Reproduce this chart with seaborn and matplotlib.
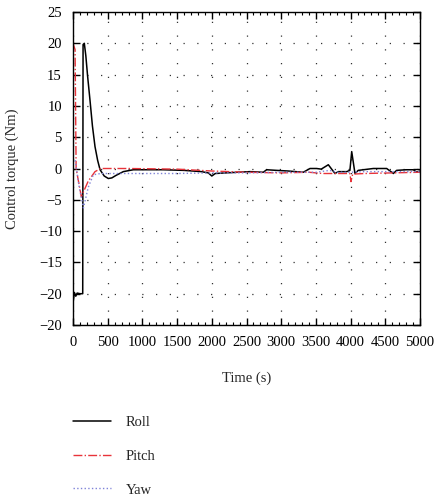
import numpy as np
import pandas as pd
import matplotlib
matplotlib.use("Agg")
import matplotlib.pyplot as plt
import seaborn as sns
from matplotlib.ticker import MultipleLocator

# values
roll_t = [0, 20, 40, 60, 100, 140, 145, 163, 185, 210, 245, 280, 317, 355, 390, 450,
          509, 560, 620, 725, 870, 1000, 1300, 1600, 1850, 1950, 2000, 2050, 2200, 2550,
          2742, 2790, 2934, 3100, 3318, 3415, 3510, 3577, 3679, 3775, 3823, 3944, 3990,
          4016, 4063, 4110, 4327, 4520, 4616, 4663, 4800, 4904, 4952, 5000]
roll_v = [-21.5, -19.8, -20.4, -19.9, -20.0, -20.0, 19.8, 20.0, 18.0, 14.8, 10.9, 6.8, 3.5,
          1.3, -0.2, -1.2, -1.6, -1.5, -1.1, -0.5, -0.2, -0.2, -0.2, -0.3, -0.5, -0.7,
          -1.2, -0.8, -0.7, -0.5, -0.6, -0.2, -0.3, -0.4, -0.6, 0.0, 0.0, -0.1, 0.6, -0.8,
          -0.5, -0.5, -0.3, 2.7, -0.8, -0.3, 0.0, 0.0, -0.8, -0.3, -0.2, -0.2, -0.6, -0.4]

pitch_t = [0, 30, 45, 120, 220, 317, 400, 800, 1500, 2000, 2500, 3000, 3400, 3600, 3900,
           3990, 4005, 4030, 4200, 4600, 5000]
pitch_v = [20.0, 19.0, 0.0, -4.5, -2.0, -0.5, 0.0, 0.0, -0.1, -0.4, -0.6, -0.7, -0.6, -0.8,
           -0.8, -0.8, -2.1, -0.9, -0.8, -0.7, -0.6]

yaw_t = [0, 30, 90, 150, 220, 293, 400, 600, 1000, 1500, 2000, 2500, 3000, 3500, 3700,
         3800, 4000, 4200, 4600, 5000]
yaw_v = [1.0, 1.4, -3.0, -6.3, -3.0, -1.0, -0.8, -0.8, -0.8, -0.8, -0.7, -0.7, -0.6, -0.6,
         -0.3, -0.6, -0.6, -0.5, -0.5, -0.5]

y_ticks = [-25, -20, -15, -10, -5, 0, 5, 10, 15, 20, 25]
y_tick_labels = ["−20", "−20", "−15", "−10", "−5", "0", "5", "10", "15", "20", "25"]
x_ticks = [0, 500, 1000, 1500, 2000, 2500, 3000, 3500, 4000, 4500, 5000]

sns.set_theme(style="ticks")
plt.rcParams["font.family"] = ["Liberation Serif", "DejaVu Serif"]
plt.rcParams["font.size"] = 10.5

fig = plt.figure(figsize=(4.36, 4.96), dpi=100)
ax = fig.add_axes([73 / 436, 1 - 325 / 496, 347 / 436, 313 / 496])

sns.lineplot(x=roll_t, y=roll_v, ax=ax, color="black", lw=1.1, label="Roll", sort=False)
sns.lineplot(x=pitch_t, y=pitch_v, ax=ax, color="#e8333a", lw=1.0, linestyle="-.",
             label="Pitch", sort=False)
sns.lineplot(x=yaw_t, y=yaw_v, ax=ax, color="#7f83d8", lw=1.0, linestyle=":",
             label="Yaw", sort=False)

ax.set_xlim(0, 5000)
ax.set_ylim(-25, 25)
ax.set_xticks(x_ticks)
ax.set_xticklabels([str(t) for t in x_ticks])
ax.set_yticks(y_ticks)
ax.set_yticklabels(y_tick_labels)
ax.xaxis.set_minor_locator(MultipleLocator(100))

ax.grid(True, which="major", linestyle=(0, (1, 10)), color="#333333", lw=0.9)
ax.tick_params(which="both", direction="in", top=True, right=True, colors="black",
               labelsize=10.5)
ax.tick_params(which="major", length=5, width=1, pad=8)
ax.tick_params(which="minor", length=2.5, width=0.8)
for sp in ax.spines.values():
    sp.set_color("black")
    sp.set_linewidth(1.0)

ax.set_xlabel("Time (s)", fontsize=10.5, labelpad=16)
ax.set_ylabel("Control torque (Nm)", fontsize=10.5, labelpad=14)

ax.legend(loc="upper left", bbox_to_anchor=(60 / 436, 1 - 403 / 496),
          bbox_transform=fig.transFigure, frameon=False, handlelength=2.6,
          labelspacing=1.4, handletextpad=1.0, fontsize=10.5)

fig.savefig("out.png", dpi=100)
